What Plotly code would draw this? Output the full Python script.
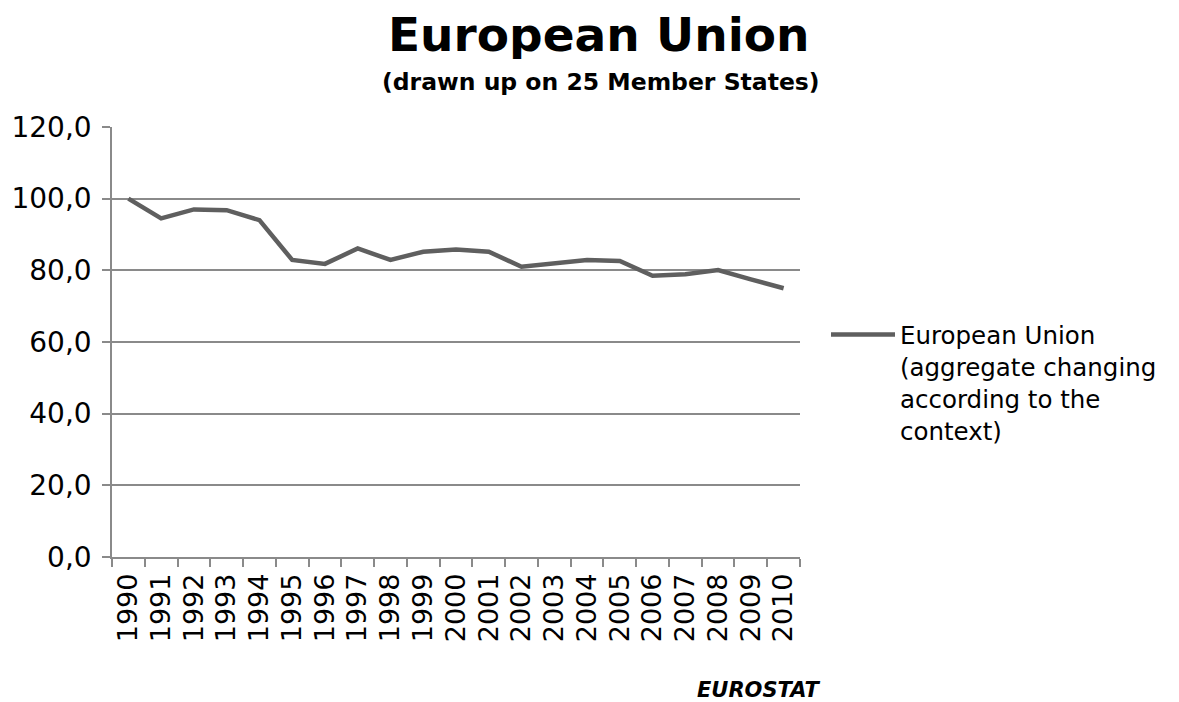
import plotly.graph_objects as go

years = [str(y) for y in range(1990, 2011)]
eu_values = [100.0, 94.5, 97.0, 96.8, 94.0, 82.9, 81.8, 86.1, 82.9, 85.2,
             85.8, 85.2, 81.0, 81.8, 82.9, 82.6, 78.5, 78.9, 80.1, 77.5, 75.0]
series_name = "European Union<br>(aggregate changing<br>according to the<br>context)"
y_ticks = [0, 20, 40, 60, 80, 100, 120]

FONT = "DejaVu Sans, Verdana, sans-serif"
GRID = "#8a8a8a"
OFF = 8  # page body offset

fig = go.Figure()
fig.add_trace(go.Scatter(
    x=years, y=eu_values, mode="lines", name=series_name,
    line=dict(color="#5f5f5f", width=4.5),
))

W, H = 1179 - OFF, 702 - OFF
L, R, T, B = 112 - OFF, 800 - OFF, 127 - OFF, 557 - OFF


def px(x):
    return (x - OFF - L) / (R - L)


def py(y):
    return (B - (y - OFF)) / (B - T)


fig.update_layout(
    width=W, height=H,
    margin=dict(l=L, r=W - R, t=T, b=H - B, autoexpand=False),
    paper_bgcolor="white", plot_bgcolor="white",
    font=dict(family=FONT, size=28, color="black"),
    separators=", ",
    showlegend=True,
    legend=dict(x=px(826), y=py(312), xanchor="left", yanchor="top",
                valign="top", itemwidth=64, font=dict(size=24.5, family=FONT),
                bgcolor="rgba(0,0,0,0)", tracegroupgap=0),
    xaxis=dict(type="category", range=[-0.5, len(years) - 0.5], showgrid=False,
               tickmode="array", tickvals=years, ticktext=years,
               showline=True, linecolor=GRID, linewidth=1.5,
               ticks="outside", tickson="boundaries", ticklen=8, tickcolor=GRID, tickwidth=1.5,
               tickangle=-90, ticklabelstandoff=4, tickfont=dict(size=27, family=FONT)),
    yaxis=dict(range=[0, 120], tickvals=y_ticks, tickformat=".1f", showgrid=True,
               gridcolor=GRID, gridwidth=1.5, showline=True, linecolor=GRID, linewidth=1.5,
               ticks="outside", ticklen=8, tickcolor=GRID, tickwidth=1.5, zeroline=False,
               ticklabelstandoff=5, tickfont=dict(size=28, family=FONT)),
    annotations=[
        dict(text="<b>European Union</b>", xref="paper", yref="paper",
             x=px(599), y=py(34), xanchor="center", yanchor="middle", height=50,
             showarrow=False, font=dict(size=47, family=FONT)),
        dict(text="<b>(drawn up on 25 Member States)</b>", xref="paper", yref="paper",
             x=px(601), y=py(82), xanchor="center", yanchor="middle",
             showarrow=False, font=dict(size=23.5, family=FONT)),
        dict(text="<b><i>EUROSTAT</i></b>", xref="paper", yref="paper",
             x=px(822), y=py(690), xanchor="right", yanchor="middle",
             showarrow=False, font=dict(size=21, family=FONT)),
    ],
)

fig.write_html("out.html")
